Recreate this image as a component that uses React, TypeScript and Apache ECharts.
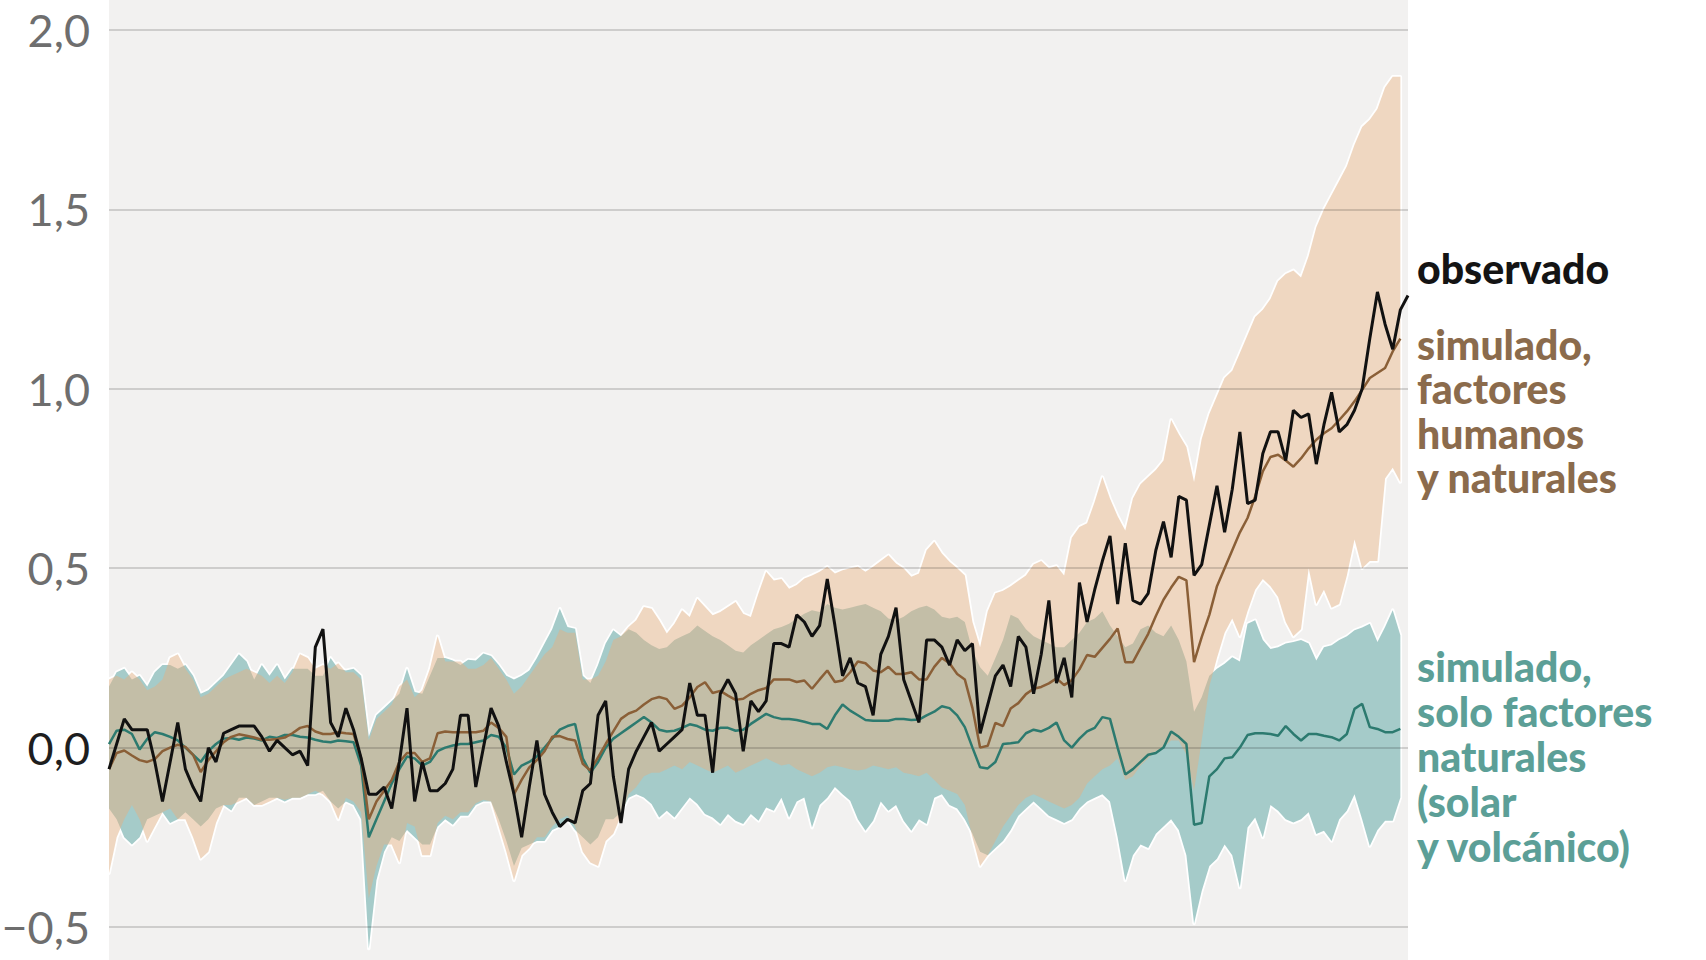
import React, { useEffect, useRef } from "react";
import * as echarts from "echarts";

const START_YEAR = 1850;

// Observed global surface temperature change (°C), 1850–2020
const observed = [
  -0.06, 0.01, 0.08, 0.05, 0.05, 0.05, -0.04, -0.15, -0.04, 0.07,
  -0.06, -0.11, -0.15, 0.0, -0.04, 0.04, 0.05, 0.06, 0.06, 0.06,
  0.03, -0.01, 0.02, 0.0, -0.02, -0.01, -0.05, 0.28, 0.33, 0.07,
  0.03, 0.11, 0.05, -0.03, -0.13, -0.13, -0.11, -0.17, -0.04, 0.11,
  -0.15, -0.04, -0.12, -0.12, -0.1, -0.06, 0.09, 0.09, -0.11, 0.0,
  0.11, 0.06, -0.04, -0.13, -0.25, -0.11, 0.02, -0.13, -0.18, -0.22,
  -0.2, -0.21, -0.12, -0.1, 0.09, 0.13, -0.08, -0.21, -0.06, -0.01,
  0.03, 0.07, -0.01, 0.01, 0.03, 0.05, 0.18, 0.09, 0.09, -0.07,
  0.15, 0.19, 0.15, -0.01, 0.13, 0.1, 0.13, 0.29, 0.29, 0.28,
  0.37, 0.35, 0.31, 0.34, 0.47, 0.34, 0.2, 0.25, 0.18, 0.17,
  0.09, 0.26, 0.31, 0.39, 0.19, 0.13, 0.07, 0.3, 0.3, 0.28,
  0.23, 0.3, 0.27, 0.29, 0.04, 0.12, 0.2, 0.23, 0.17, 0.31,
  0.28, 0.15, 0.26, 0.41, 0.18, 0.25, 0.14, 0.46, 0.35, 0.44,
  0.52, 0.59, 0.4, 0.57, 0.41, 0.4, 0.43, 0.55, 0.63, 0.53,
  0.7, 0.69, 0.48, 0.51, 0.62, 0.73, 0.6, 0.72, 0.88, 0.68,
  0.69, 0.82, 0.88, 0.88, 0.8, 0.94, 0.92, 0.93, 0.79, 0.9,
  0.99, 0.88, 0.9, 0.94, 1.0, 1.14, 1.27, 1.18, 1.11, 1.22,
  1.26,
];

// Simulated, human + natural factors: mean, 1850–2019
const humanNaturalMean = [
  -0.06, -0.015, -0.008, -0.022, -0.035, -0.04, -0.032, -0.01, 0.0, 0.008,
  0.002, -0.02, -0.068, -0.035, -0.01, 0.015, 0.03, 0.037, 0.033, 0.028,
  0.022, 0.022, 0.024, 0.028, 0.04, 0.055, 0.06, 0.045, 0.038, 0.038,
  0.043, 0.04, 0.038, -0.03, -0.2, -0.15, -0.12, -0.09, -0.04, -0.015,
  -0.015, -0.04, -0.03, 0.04, 0.045, 0.043, 0.043, 0.043, 0.043, 0.047,
  0.07, 0.055, 0.03, -0.13, -0.09, -0.055, -0.035, -0.01, 0.03, 0.032,
  0.024, 0.02, -0.045, -0.064, -0.027, 0.01, 0.045, 0.08, 0.095, 0.103,
  0.12, 0.135, 0.141, 0.135, 0.108, 0.117, 0.14, 0.169, 0.182, 0.152,
  0.158, 0.145, 0.133, 0.136, 0.15, 0.16, 0.166, 0.19, 0.19, 0.19,
  0.183, 0.187, 0.164, 0.19, 0.215, 0.183, 0.187, 0.21, 0.24, 0.235,
  0.215, 0.21, 0.225, 0.205, 0.205, 0.21, 0.19, 0.19, 0.225, 0.25,
  0.235, 0.205, 0.19, 0.11, 0.0, 0.005, 0.069, 0.06, 0.109, 0.124,
  0.149, 0.164, 0.169, 0.179, 0.193, 0.174, 0.188, 0.218, 0.258, 0.253,
  0.278, 0.303, 0.332, 0.238, 0.238, 0.278, 0.317, 0.367, 0.412, 0.446,
  0.476, 0.466, 0.238, 0.308, 0.37, 0.45, 0.5, 0.55, 0.6, 0.64,
  0.7, 0.77, 0.81, 0.816, 0.8, 0.783, 0.806, 0.834, 0.858, 0.876,
  0.89, 0.913, 0.937, 0.965, 0.997, 1.03, 1.044, 1.058, 1.104, 1.14,
];

// Simulated, human + natural factors: upper edge of range
const humanNaturalHigh = [
  0.19, 0.2, 0.19, 0.21, 0.19, 0.16, 0.17, 0.19, 0.25, 0.26,
  0.22, 0.19, 0.14, 0.15, 0.17, 0.19, 0.2, 0.21, 0.22, 0.21,
  0.2, 0.18, 0.2, 0.18, 0.21, 0.26, 0.25, 0.22, 0.23, 0.22,
  0.235, 0.21, 0.21, 0.19, 0.02, 0.08, 0.1, 0.12, 0.17, 0.19,
  0.14, 0.16, 0.22, 0.31, 0.24, 0.24, 0.24, 0.22, 0.22, 0.23,
  0.25, 0.22, 0.19, 0.15, 0.17, 0.2, 0.23, 0.26, 0.28, 0.33,
  0.32, 0.32, 0.19, 0.19, 0.2, 0.24, 0.3, 0.31, 0.336, 0.355,
  0.392, 0.387, 0.355, 0.318, 0.345, 0.383, 0.364, 0.415, 0.392, 0.369,
  0.378, 0.392, 0.406, 0.373, 0.364, 0.43, 0.49, 0.466, 0.47, 0.443,
  0.453, 0.471, 0.48, 0.49, 0.504, 0.485, 0.494, 0.5, 0.504, 0.49,
  0.504, 0.52, 0.536, 0.513, 0.499, 0.476, 0.485, 0.55, 0.574, 0.541,
  0.518, 0.5, 0.48, 0.35, 0.28, 0.38, 0.43, 0.437, 0.45, 0.465,
  0.48, 0.51, 0.52, 0.5, 0.506, 0.48, 0.585, 0.615, 0.625, 0.685,
  0.754, 0.694, 0.645, 0.605, 0.694, 0.734, 0.754, 0.774, 0.8, 0.913,
  0.873, 0.838, 0.74, 0.86, 0.93, 0.98, 1.03, 1.05, 1.1, 1.15,
  1.2, 1.22, 1.25, 1.3, 1.32, 1.33, 1.31, 1.37, 1.45, 1.5,
  1.54, 1.58, 1.62, 1.68, 1.73, 1.75, 1.78, 1.84, 1.87, 1.87,
];

// Simulated, human + natural factors: lower edge of range
const humanNaturalLow = [
  -0.35, -0.25, -0.2, -0.16, -0.2, -0.26, -0.22, -0.18, -0.17, -0.2,
  -0.2, -0.25, -0.31, -0.29, -0.21, -0.16, -0.16, -0.15, -0.14, -0.16,
  -0.16, -0.15, -0.14, -0.145, -0.14, -0.14, -0.13, -0.12, -0.13, -0.15,
  -0.2, -0.14, -0.15, -0.18, -0.42, -0.33, -0.27, -0.27, -0.32, -0.21,
  -0.22, -0.3, -0.3, -0.21, -0.19, -0.2, -0.18, -0.18, -0.155, -0.145,
  -0.15, -0.22, -0.29, -0.37, -0.3, -0.28, -0.25, -0.25, -0.22, -0.2,
  -0.19, -0.22, -0.29, -0.32, -0.33, -0.26, -0.24, -0.19, -0.13, -0.11,
  -0.08, -0.07, -0.07, -0.06, -0.05, -0.06, -0.04, -0.05, -0.06, -0.07,
  -0.06, -0.05, -0.07, -0.06, -0.05, -0.04, -0.03, -0.04, -0.05, -0.046,
  -0.06, -0.07, -0.08, -0.07, -0.055, -0.05, -0.055, -0.06, -0.064, -0.06,
  -0.05, -0.055, -0.06, -0.055, -0.07, -0.074, -0.08, -0.07, -0.09, -0.111,
  -0.12, -0.129, -0.16, -0.25, -0.33, -0.3, -0.26, -0.22, -0.19, -0.16,
  -0.14, -0.13, -0.14, -0.15, -0.16, -0.17, -0.16, -0.14, -0.1, -0.08,
  -0.06, -0.05, -0.03, -0.09, -0.08, -0.05, -0.03, -0.01, 0.0, 0.02,
  0.02, -0.02, -0.12, 0.02, 0.17, 0.25, 0.32, 0.36, 0.31, 0.38,
  0.44, 0.47, 0.45, 0.42, 0.35, 0.31, 0.33, 0.5, 0.4, 0.44,
  0.39, 0.4, 0.48, 0.58, 0.5, 0.52, 0.52, 0.75, 0.78, 0.74,
];

// Simulated, natural factors only: mean
const naturalMean = [
  0.01, 0.047, 0.05, 0.038, -0.005, 0.024, 0.043, 0.038, 0.03, 0.02,
  0.0, -0.02, -0.04, -0.01, 0.01, 0.025, 0.027, 0.022, 0.028, 0.025,
  0.02, 0.03, 0.027, 0.035, 0.035, 0.03, 0.028, 0.022, 0.017, 0.015,
  0.02, 0.018, 0.015, -0.05, -0.25, -0.2, -0.15, -0.1, -0.06, -0.025,
  -0.03, -0.05, -0.04, -0.01, 0.0, 0.006, 0.01, 0.01, 0.015, 0.02,
  0.035, 0.03, 0.0, -0.075, -0.05, -0.04, -0.025, 0.0, 0.025, 0.05,
  0.06, 0.066, -0.03, -0.07, -0.04, 0.0, 0.025, 0.04, 0.055, 0.07,
  0.085, 0.07, 0.05, 0.045, 0.047, 0.055, 0.065, 0.06, 0.05, 0.047,
  0.055, 0.055, 0.047, 0.05, 0.066, 0.08, 0.094, 0.085, 0.08, 0.08,
  0.077, 0.072, 0.066, 0.066, 0.052, 0.09, 0.12, 0.103, 0.09, 0.077,
  0.075, 0.075, 0.075, 0.08, 0.08, 0.077, 0.078, 0.09, 0.1, 0.115,
  0.11, 0.09, 0.057, 0.0, -0.055, -0.058, -0.04, 0.01, 0.012, 0.015,
  0.04, 0.05, 0.045, 0.055, 0.07, 0.02, 0.0, 0.025, 0.045, 0.055,
  0.085, 0.08, 0.0, -0.075, -0.06, -0.04, -0.02, -0.015, 0.0, 0.045,
  0.03, 0.01, -0.215, -0.21, -0.08, -0.06, -0.03, -0.027, 0.0, 0.035,
  0.04, 0.04, 0.038, 0.033, 0.06, 0.038, 0.02, 0.038, 0.038, 0.033,
  0.029, 0.02, 0.038, 0.108, 0.122, 0.057, 0.052, 0.043, 0.043, 0.052,
];

// Simulated, natural factors only: upper edge of range
const naturalHigh = [
  0.17, 0.21, 0.22, 0.19, 0.2, 0.17, 0.21, 0.23, 0.23, 0.22,
  0.23, 0.2, 0.15, 0.16, 0.18, 0.2, 0.23, 0.26, 0.24, 0.19,
  0.23, 0.2, 0.23, 0.19, 0.22, 0.22, 0.22, 0.2, 0.2, 0.25,
  0.22, 0.215, 0.22, 0.2, 0.03, 0.09, 0.11, 0.13, 0.15, 0.22,
  0.155, 0.15, 0.2, 0.25, 0.25, 0.243, 0.23, 0.245, 0.243, 0.262,
  0.255, 0.23, 0.2, 0.19, 0.2, 0.215, 0.25, 0.29, 0.33, 0.387,
  0.336, 0.331, 0.2, 0.18, 0.23, 0.29, 0.327, 0.31, 0.33, 0.32,
  0.3, 0.285, 0.275, 0.28, 0.3, 0.31, 0.32, 0.34, 0.325, 0.31,
  0.3, 0.285, 0.27, 0.265, 0.285, 0.3, 0.315, 0.33, 0.336, 0.345,
  0.36, 0.373, 0.383, 0.378, 0.4, 0.39, 0.385, 0.39, 0.395, 0.4,
  0.39, 0.38, 0.36, 0.355, 0.365, 0.38, 0.39, 0.395, 0.385, 0.365,
  0.36, 0.365, 0.35, 0.27, 0.224, 0.2, 0.25, 0.3, 0.37, 0.36,
  0.33, 0.31, 0.3, 0.29, 0.28, 0.28, 0.3, 0.32, 0.35, 0.36,
  0.38, 0.34, 0.31, 0.28, 0.29, 0.33, 0.34, 0.32, 0.31, 0.34,
  0.3, 0.24, 0.1, 0.14, 0.2, 0.22, 0.234, 0.252, 0.24, 0.345,
  0.355, 0.3, 0.275, 0.28, 0.29, 0.294, 0.3, 0.29, 0.243, 0.28,
  0.285, 0.3, 0.31, 0.327, 0.335, 0.345, 0.294, 0.336, 0.383, 0.313,
];

// Simulated, natural factors only: lower edge of range
const naturalLow = [
  -0.17, -0.2, -0.25, -0.27, -0.25, -0.2, -0.19, -0.18, -0.21, -0.2,
  -0.18, -0.2, -0.22, -0.2, -0.17, -0.16, -0.175, -0.14, -0.14, -0.16,
  -0.15, -0.14, -0.14, -0.15, -0.14, -0.14, -0.13, -0.13, -0.12, -0.15,
  -0.17, -0.15, -0.16, -0.2, -0.56, -0.37, -0.29, -0.25, -0.26, -0.23,
  -0.25, -0.27, -0.27, -0.22, -0.2, -0.215, -0.19, -0.19, -0.16, -0.15,
  -0.15, -0.2, -0.26, -0.33, -0.28, -0.27, -0.26, -0.26, -0.23, -0.22,
  -0.2, -0.23, -0.25, -0.27, -0.25, -0.2, -0.2, -0.18, -0.14, -0.13,
  -0.139, -0.157, -0.195, -0.176, -0.195, -0.167, -0.139, -0.157, -0.185, -0.195,
  -0.213, -0.185, -0.204, -0.213, -0.185, -0.204, -0.167, -0.176, -0.14, -0.195,
  -0.15, -0.139, -0.223, -0.16, -0.14, -0.11, -0.13, -0.148, -0.2, -0.232,
  -0.204, -0.15, -0.176, -0.16, -0.204, -0.232, -0.2, -0.213, -0.14, -0.13,
  -0.16, -0.17, -0.2, -0.24, -0.29, -0.3, -0.28, -0.26, -0.23, -0.19,
  -0.17, -0.15, -0.17, -0.19, -0.2, -0.21, -0.2, -0.17, -0.15, -0.14,
  -0.13, -0.15, -0.25, -0.37, -0.3, -0.27, -0.28, -0.24, -0.22, -0.2,
  -0.23, -0.3, -0.49, -0.4, -0.33, -0.31, -0.27, -0.3, -0.39, -0.223,
  -0.195, -0.25, -0.16, -0.176, -0.2, -0.209, -0.2, -0.18, -0.241, -0.232,
  -0.26, -0.2, -0.176, -0.13, -0.2, -0.274, -0.23, -0.204, -0.204, -0.139,
];

const yTicks = [-0.5, 0, 0.5, 1, 1.5, 2];

const labelObserved = ["observado"];
const labelHumanNatural = ["simulado,", "factores", "humanos", "y naturales"];
const labelNatural = ["simulado,", "solo factores", "naturales", "(solar", "y volcánico)"];

const formatTick = (v: number) => {
  if (Math.abs(v) < 1e-9) return "0,0";
  const s = Math.abs(v).toFixed(1).replace(".", ",");
  return v < 0 ? "\u2212" + s : s;
};

export default function App() {
  const ref = useRef<HTMLDivElement>(null);

  useEffect(() => {
    document.body.style.margin = "0";
    const chart = echarts.init(ref.current!, null, { renderer: "svg" });

    const years = (arr: number[]) => arr.map((_, i) => START_YEAR + i);
    const simYears = years(humanNaturalMean);
    const obsYears = years(observed);

    const poly = (upper: number[], lower: number[], api: any) => {
      const pts: number[][] = [];
      for (let i = 0; i < upper.length; i++) pts.push(api.coord([simYears[i], upper[i]]));
      for (let i = lower.length - 1; i >= 0; i--) pts.push(api.coord([simYears[i], lower[i]]));
      return pts;
    };

    const legendX = 1417;
    const legendFont = 41;
    const lineTexts: any[] = [];
    const addBlock = (lines: string[], firstMiddle: number, lh: number, color: string) =>
      lines.forEach((t, i) =>
        lineTexts.push({
          type: "text",
          x: legendX,
          y: firstMiddle + i * lh,
          silent: true,
          style: {
            text: t,
            fill: color,
            fontSize: legendFont,
            fontWeight: 900,
            fontFamily: "Lato",
            verticalAlign: "middle",
            align: "left",
          },
        })
      );
    addBlock(labelObserved, 268, 45, "#141414");
    addBlock(labelHumanNatural, 344, 44.6, "#8b6b4c");
    addBlock(labelNatural, 666, 45.2, "#5c9f97");

    chart.setOption({
      animation: false,
      grid: { left: 109, top: 30, width: 1299, height: 897, outerBoundsMode: "none" },
      xAxis: { type: "value", min: 1850, max: 2020, show: false },
      yAxis: {
        type: "value",
        min: yTicks[0],
        max: yTicks[yTicks.length - 1],
        interval: 0.5,
        z: 4,
        axisLine: { show: false },
        axisTick: { show: false },
        splitLine: { show: true, lineStyle: { color: "rgba(0,0,0,0.15)", width: 2 } },
        axisLabel: {
          margin: 19,
          fontSize: 45,
          fontFamily: "Lato",
          color: (v: any) => (Math.abs(Number(v)) < 1e-9 ? "#1e1e1e" : "#6e6e6e"),
          formatter: (v: number) => formatTick(Number(v)),
        },
      },
      graphic: [
        {
          type: "rect",
          z: -10,
          silent: true,
          shape: { x: 109, y: 0, width: 1299, height: 960 },
          style: { fill: "#f2f1f0" },
        },
        ...lineTexts,
      ],
      series: [
        {
          type: "custom",
          name: "halo",
          z: 1,
          silent: true,
          clip: false,
          data: [[1850, 0]],
          renderItem: (_p: any, api: any) => ({
            type: "group",
            children: [
              {
                type: "polygon",
                shape: { points: poly(humanNaturalHigh, humanNaturalLow, api) },
                style: { fill: "#ffffff", stroke: "#ffffff", lineWidth: 3.5, lineJoin: "round" },
              },
              {
                type: "polygon",
                shape: { points: poly(naturalHigh, naturalLow, api) },
                style: { fill: "#ffffff", stroke: "#ffffff", lineWidth: 3.5, lineJoin: "round" },
              },
            ],
          }),
        },
        {
          type: "custom",
          name: "rango natural",
          z: 2,
          silent: true,
          clip: false,
          data: [[1850, 0]],
          renderItem: (_p: any, api: any) => ({
            type: "polygon",
            shape: { points: poly(naturalHigh, naturalLow, api) },
            style: { fill: "rgba(75,151,147,0.5)" },
          }),
        },
        {
          type: "custom",
          name: "rango humano y natural",
          z: 3,
          silent: true,
          clip: false,
          data: [[1850, 0]],
          renderItem: (_p: any, api: any) => ({
            type: "polygon",
            shape: { points: poly(humanNaturalHigh, humanNaturalLow, api) },
            style: { fill: "rgba(224,177,135,0.515)" },
          }),
        },
        {
          type: "line",
          name: "simulado natural",
          z: 5,
          silent: true,
          showSymbol: false,
          symbol: "none",
          data: simYears.map((y, i) => [y, naturalMean[i]]),
          lineStyle: { color: "#2c7a6f", width: 2.5 },
        },
        {
          type: "line",
          name: "simulado humano y natural",
          z: 6,
          silent: true,
          showSymbol: false,
          symbol: "none",
          data: simYears.map((y, i) => [y, humanNaturalMean[i]]),
          lineStyle: { color: "#8a5f37", width: 2.5 },
        },
        {
          type: "line",
          name: "observado",
          z: 7,
          silent: true,
          showSymbol: false,
          symbol: "none",
          data: obsYears.map((y, i) => [y, observed[i]]),
          lineStyle: { color: "#111111", width: 3 },
        },
      ],
    });

    return () => chart.dispose();
  }, []);

  return <div ref={ref} style={{ width: 1706, height: 960 }} />;
}
